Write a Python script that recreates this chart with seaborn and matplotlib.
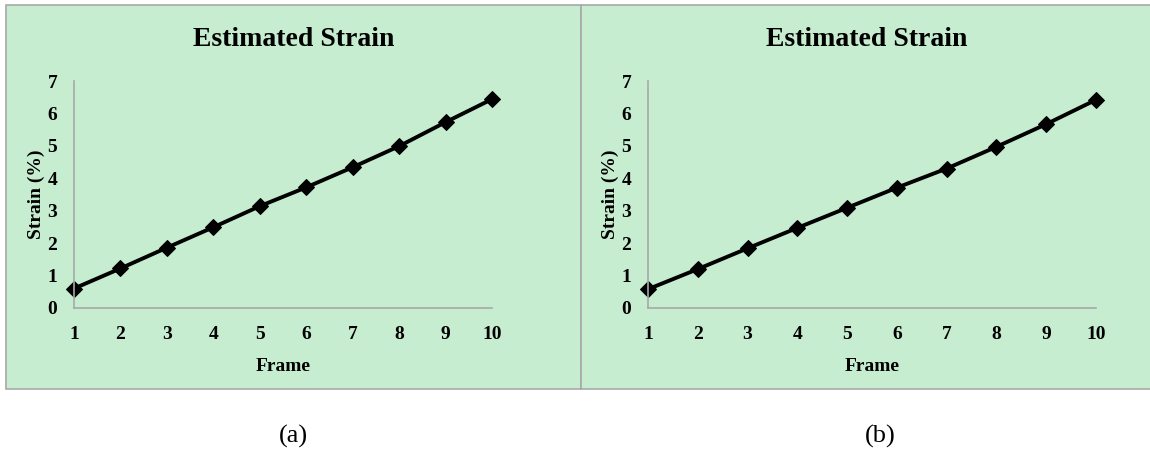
import numpy as np
import pandas as pd
import seaborn as sns
import matplotlib.pyplot as plt
from matplotlib.patches import Rectangle

# values
frames = [1, 2, 3, 4, 5, 6, 7, 8, 9, 10]
strain_a = [0.60, 1.22, 1.86, 2.49, 3.14, 3.72, 4.34, 4.99, 5.73, 6.44]
strain_b = [0.58, 1.20, 1.84, 2.47, 3.09, 3.71, 4.30, 4.97, 5.67, 6.42]
captions = ['(a)', '(b)']

sns.set_style("white")
plt.rcParams['font.family'] = ['Liberation Serif', 'DejaVu Serif']
plt.rcParams['text.color'] = 'black'

green = '#c6edcf'
edge = '#a8a8a8'

fig = plt.figure(figsize=(11.5, 4.53), dpi=100)
W, H = 1150, 453

# panel boxes (pixel coords -> figure fractions)
panels = [(6, 581), (581, 1152)]
axes_px = [(74, 492), (648, 1096)]
for (x0, x1) in panels:
    fig.patches.append(Rectangle((x0 / W, 1 - 389 / H), (x1 - x0) / W, (389 - 5) / H,
                                 transform=fig.transFigure, facecolor=green,
                                 edgecolor=edge, linewidth=1.2, zorder=-5))

for i, strain in enumerate([strain_a, strain_b]):
    left, right = axes_px[i]
    ax = fig.add_axes([left / W, 1 - 308 / H, (right - left) / W, (308 - 81) / H])
    ax.set_facecolor('none')
    df = pd.DataFrame({'Frame': frames, 'Strain': strain})
    sns.lineplot(data=df, x='Frame', y='Strain', ax=ax, color='black',
                 linewidth=2.8, marker='D', markersize=8.5, markeredgecolor='black')
    ax.set_xlim(1, 10)
    ax.set_ylim(0, 7)
    ax.set_xticks(frames)
    ax.set_yticks(range(0, 8))
    ax.spines['top'].set_visible(False)
    ax.spines['right'].set_visible(False)
    for s in ['left', 'bottom']:
        ax.spines[s].set_color(edge)
        ax.spines[s].set_linewidth(1.2)
    ax.tick_params(axis='both', direction='out', length=4, width=1.2, color=edge,
                   labelsize=14, labelcolor='black', pad=9)
    ax.tick_params(axis='y', pad=8)
    for lab in ax.get_xticklabels() + ax.get_yticklabels():
        lab.set_fontweight('bold')
    ax.set_xlabel('Frame', fontsize=14, fontweight='bold', labelpad=11, color='black')
    ax.set_ylabel('Strain (%)', fontsize=14, fontweight='bold', labelpad=2, color='black')
    for ln in ax.lines:
        ln.set_clip_on(False)

    px0, px1 = panels[i]
    cx = (px0 + px1) / 2 / W
    fig.text(cx, 1 - 40 / H, 'Estimated Strain', ha='center', va='center',
             fontsize=20, fontweight='bold')
    fig.text(cx if i == 0 else 880 / W, 1 - 436 / H, captions[i], ha='center', va='center',
             fontsize=19)

fig.savefig('out.png', dpi=100)
